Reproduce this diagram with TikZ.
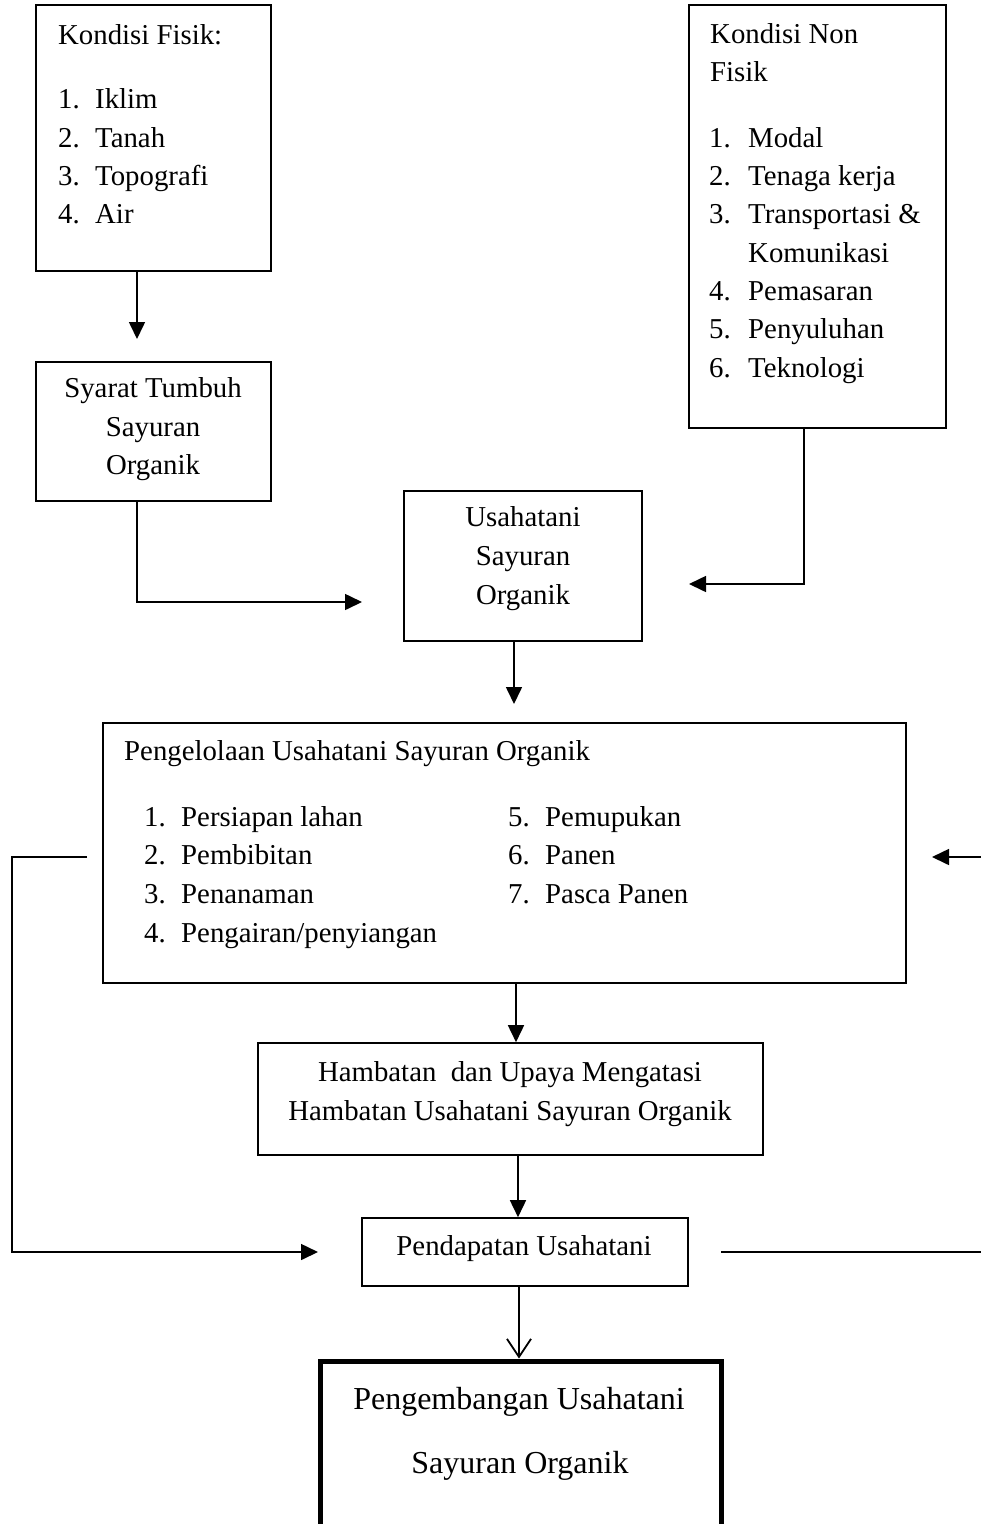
\documentclass[tikz,border=0pt]{standalone}
\usepackage{fontspec}
\setmainfont{Liberation Serif}
\usetikzlibrary{arrows.meta}
\newcommand\fsz{\fontsize{28.8}{38.7}\selectfont}
\newcommand\fbig{\fontsize{32}{64}\selectfont}
\tikzset{
  box/.style={draw, line width=1.6pt, inner sep=0pt, rectangle},
  bigbox/.style={draw, line width=5pt, inner sep=0pt, rectangle},
  lt/.style={inner sep=0pt, anchor=base west, font=\fsz},
  ct/.style={inner sep=0pt, anchor=base, font=\fsz},
  conn/.style={line width=1.6pt},
  arr/.style={line width=1.6pt, -{Triangle[length=17pt,width=16pt]}},
  openarr/.style={line width=1.6pt, -{Straight Barb[length=18pt,width=24pt,line width=1.8pt]}}
}
\begin{document}
\begin{tikzpicture}[x=1pt,y=-1pt]
\clip (0,0) rectangle (981,1524);
\fill[white] (0,0) rectangle (981,1524);

% boxes
\node[box, minimum width=235, minimum height=266] (fisik) at (153.5,138) {};
\node[box, minimum width=257, minimum height=423] (nonfisik) at (817.5,216.5) {};
\node[box, minimum width=235, minimum height=139] (syarat) at (153.5,431.5) {};
\node[box, minimum width=238, minimum height=150] (usaha) at (523,566) {};
\node[box, minimum width=803, minimum height=260] (kelola) at (504.5,853) {};
\node[box, minimum width=505, minimum height=112] (hambat) at (510.5,1099) {};
\node[box, minimum width=326, minimum height=68] (pendapat) at (525,1252) {};
\node[bigbox, minimum width=401, minimum height=174] (kembang) at (520.5,1448) {};

% Kondisi Fisik text
\node[lt] (f0) at (58,44) {Kondisi Fisik:};
\node[lt] (f1n) at (58,108) {1.};  \node[lt] (f1) at (95,108) {Iklim};
\node[lt] (f2n) at (58,147) {2.};  \node[lt] (f2) at (95,147) {Tanah};
\node[lt] (f3n) at (58,185) {3.};  \node[lt] (f3) at (95,185) {Topografi};
\node[lt] (f4n) at (58,223) {4.};  \node[lt] (f4) at (95,223) {Air};

% Kondisi Non Fisik text
\node[lt] (n0) at (710,43) {Kondisi Non};
\node[lt] (n0b) at (710,81) {Fisik};
\node[lt] (n1n) at (709,147) {1.}; \node[lt] (n1) at (748,147) {Modal};
\node[lt] (n2n) at (709,185) {2.}; \node[lt] (n2) at (748,185) {Tenaga kerja};
\node[lt] (n3n) at (709,223) {3.}; \node[lt] (n3) at (748,223) {Transportasi \&};
\node[lt] (n3b) at (748,262) {Komunikasi};
\node[lt] (n4n) at (709,300) {4.}; \node[lt] (n4) at (748,300) {Pemasaran};
\node[lt] (n5n) at (709,338) {5.}; \node[lt] (n5) at (748,338) {Penyuluhan};
\node[lt] (n6n) at (709,377) {6.}; \node[lt] (n6) at (748,377) {Teknologi};

% Syarat Tumbuh
\node[ct] (s1) at (153,397) {Syarat Tumbuh};
\node[ct] (s2) at (153,436) {Sayuran};
\node[ct] (s3) at (153,474) {Organik};

% Usahatani
\node[ct] (u1) at (523,526) {Usahatani};
\node[ct] (u2) at (523,565) {Sayuran};
\node[ct] (u3) at (523,604) {Organik};

% Pengelolaan
\node[lt] (k0) at (124,760) {Pengelolaan Usahatani Sayuran Organik};
\node[lt] (k1n) at (144,826) {1.}; \node[lt] (k1) at (181,826) {Persiapan lahan};
\node[lt] (k2n) at (144,864.5) {2.}; \node[lt] (k2) at (181,864.5) {Pembibitan};
\node[lt] (k3n) at (144,903) {3.}; \node[lt] (k3) at (181,903) {Penanaman};
\node[lt] (k4n) at (144,942) {4.}; \node[lt] (k4) at (181,942) {Pengairan/penyiangan};
\node[lt] (k5n) at (508,826) {5.}; \node[lt] (k5) at (545,826) {Pemupukan};
\node[lt] (k6n) at (508,864.5) {6.}; \node[lt] (k6) at (545,864.5) {Panen};
\node[lt] (k7n) at (508,903) {7.}; \node[lt] (k7) at (545,903) {Pasca Panen};

% Hambatan
\node[ct] (h1) at (510,1081) {Hambatan\ \ dan Upaya Mengatasi};
\node[ct] (h2) at (510,1120) {Hambatan Usahatani Sayuran Organik};

% Pendapatan
\node[ct] (p1) at (524,1255) {Pendapatan Usahatani};

% Pengembangan
\node[ct, font=\fbig] (g1) at (519,1409) {Pengembangan Usahatani};
\node[ct, font=\fbig] (g2) at (520,1473) {Sayuran Organik};

% connector coordinates
\coordinate (t1) at (137,339);
\coordinate (t2) at (362,602);
\coordinate (t3) at (689,584);
\coordinate (t4) at (514,704);
\coordinate (l1) at (87,857);
\coordinate (lc) at (12,1252);
\coordinate (l2) at (318,1252);
\coordinate (r1) at (721,1252);
\coordinate (r2) at (981,1252);
\coordinate (r3) at (981,857);
\coordinate (r4) at (932,857);

% connectors
\draw[arr] (fisik.south -| t1) -- (t1);
\draw[arr] (syarat.south -| t1) |- (t2);
\draw[arr] (nonfisik.south -| 804,0) |- (t3);
\draw[arr] (usaha.south -| t4) -- (t4);
\draw[arr] (kelola.south -| 516,0) -- (hambat.north -| 516,0);
\draw[arr] (hambat.south -| 518,0) -- (pendapat.north -| 518,0);
\draw[openarr] (pendapat.south -| 519,0) -- (kembang.north -| 519,0);
\draw[arr] (l1) -| (lc) -- (l2);
\draw[conn] (r1) -- (r2);
\draw[arr] (r3) -- (r4);
\end{tikzpicture}
\end{document}
